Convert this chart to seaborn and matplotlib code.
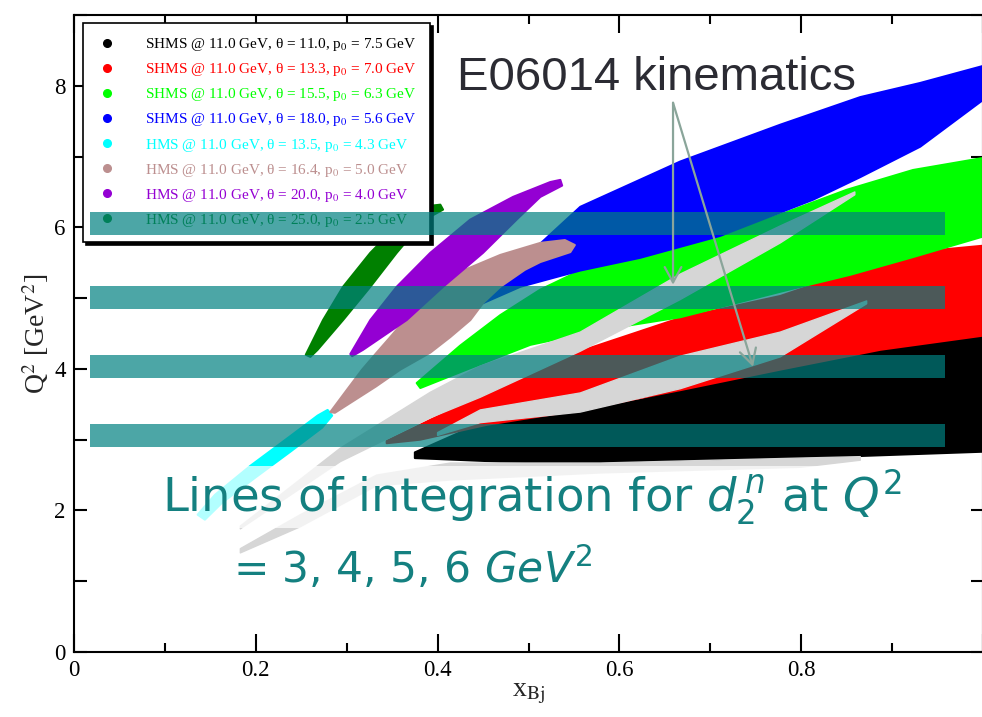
import matplotlib
matplotlib.use("Agg")
import matplotlib.pyplot as plt
import matplotlib.ticker as mticker
from matplotlib.lines import Line2D
import seaborn as sns

# ---------------- data ----------------
legend_labels = [
    "SHMS @ 11.0 GeV, \u03b8 = 11.0, p$_0$ = 7.5 GeV",
    "SHMS @ 11.0 GeV, \u03b8 = 13.3, p$_0$ = 7.0 GeV",
    "SHMS @ 11.0 GeV, \u03b8 = 15.5, p$_0$ = 6.3 GeV",
    "SHMS @ 11.0 GeV, \u03b8 = 18.0, p$_0$ = 5.6 GeV",
    "HMS @ 11.0 GeV, \u03b8 = 13.5, p$_0$ = 4.3 GeV",
    "HMS @ 11.0 GeV, \u03b8 = 16.4, p$_0$ = 5.0 GeV",
    "HMS @ 11.0 GeV, \u03b8 = 20.0, p$_0$ = 4.0 GeV",
    "HMS @ 11.0 GeV, \u03b8 = 25.0, p$_0$ = 2.5 GeV",
]
band_colors = ["#000000", "#ff0000", "#00ff00", "#0000ff",
               "#00ffff", "#bc8f8f", "#9400d3", "#008000"]

# acceptance outlines (x_Bj, Q^2)
shms_11_0 = [(0.375, 2.82), (0.454, 3.27), (0.535, 3.42), (0.623, 3.56), (0.689, 3.77),
             (0.777, 3.99), (0.887, 4.27), (1.0, 4.47), (1.0, 2.83), (0.799, 2.74),
             (0.579, 2.67), (0.469, 2.69), (0.375, 2.74)]
shms_13_3 = [(0.344, 2.98), (0.392, 3.28), (0.447, 3.62), (0.502, 3.94), (0.557, 4.25),
             (0.667, 4.72), (0.777, 5.03), (0.887, 5.51), (0.942, 5.67), (1.0, 5.74),
             (1.0, 4.47), (0.887, 4.27), (0.777, 3.99), (0.667, 3.70), (0.557, 3.42),
             (0.454, 3.21), (0.381, 3.00), (0.344, 2.95)]
shms_15_5 = [(0.377, 3.80), (0.425, 4.33), (0.469, 4.76), (0.513, 5.12), (0.557, 5.39),
             (0.623, 5.57), (0.711, 5.88), (0.777, 6.18), (0.850, 6.53), (0.923, 6.81),
             (1.0, 6.98), (1.0, 5.87), (0.923, 5.58), (0.854, 5.33), (0.777, 5.09),
             (0.667, 4.73), (0.579, 4.55), (0.502, 4.34), (0.436, 4.01), (0.381, 3.73)]
shms_18_0 = [(0.436, 4.89), (0.491, 5.51), (0.557, 6.29), (0.667, 6.93), (0.777, 7.45),
             (0.865, 7.84), (0.931, 8.04), (1.0, 8.28), (1.0, 7.80), (0.931, 7.14),
             (0.865, 6.71), (0.813, 6.39), (0.711, 5.88), (0.623, 5.57), (0.557, 5.39),
             (0.491, 5.16), (0.436, 4.85)]
hms_13_5 = [(0.136, 1.94), (0.155, 2.22), (0.194, 2.63), (0.238, 3.05), (0.268, 3.34),
            (0.279, 3.42), (0.284, 3.34), (0.273, 3.17), (0.238, 2.83), (0.199, 2.46),
            (0.163, 2.11), (0.144, 1.87)]
hms_16_4 = [(0.282, 3.39), (0.300, 3.70), (0.317, 3.99), (0.333, 4.23), (0.348, 4.45),
            (0.364, 4.69), (0.384, 4.93), (0.405, 5.16), (0.430, 5.40), (0.469, 5.61),
            (0.513, 5.78), (0.540, 5.82), (0.551, 5.75), (0.546, 5.65), (0.513, 5.51),
            (0.496, 5.40), (0.469, 5.16), (0.450, 4.93), (0.436, 4.69), (0.414, 4.45),
            (0.392, 4.23), (0.359, 3.99), (0.332, 3.75), (0.304, 3.52), (0.287, 3.38)]
hms_20_0 = [(0.304, 4.21), (0.326, 4.69), (0.355, 5.16), (0.392, 5.64), (0.436, 6.11),
            (0.483, 6.43), (0.524, 6.64), (0.535, 6.67), (0.537, 6.59), (0.513, 6.43),
            (0.487, 6.11), (0.450, 5.64), (0.406, 5.16), (0.366, 4.69), (0.318, 4.27),
            (0.306, 4.18)]
hms_25_0 = [(0.255, 4.20), (0.274, 4.69), (0.296, 5.16), (0.326, 5.64), (0.362, 6.11),
            (0.389, 6.30), (0.403, 6.32), (0.406, 6.25), (0.386, 6.11), (0.355, 5.64),
            (0.326, 5.16), (0.296, 4.69), (0.268, 4.27), (0.260, 4.17)]
bands = [shms_11_0, shms_13_3, shms_15_5, shms_18_0, hms_13_5, hms_16_4, hms_20_0, hms_25_0]

# E06014 kinematics (light grey wedges)
e06014_a = [(0.859, 6.50), (0.777, 6.02), (0.667, 5.34), (0.557, 4.52), (0.447, 4.04),
            (0.392, 3.67), (0.293, 2.88), (0.183, 1.78), (0.183, 1.74), (0.293, 2.69),
            (0.392, 3.31), (0.447, 3.60), (0.557, 4.25), (0.667, 4.98), (0.777, 5.78),
            (0.859, 6.46)]
e06014_b = [(0.872, 4.96), (0.777, 4.52), (0.667, 4.18), (0.557, 3.66), (0.447, 3.42),
            (0.400, 3.10), (0.400, 3.06), (0.447, 3.24), (0.557, 3.39), (0.667, 3.72),
            (0.777, 4.17), (0.872, 4.92)]
e06014_c = [(0.183, 1.46), (0.249, 1.94), (0.333, 2.50), (0.414, 2.67), (0.579, 2.67),
            (0.799, 2.74), (0.865, 2.76), (0.865, 2.71), (0.799, 2.61), (0.579, 2.53),
            (0.414, 2.43), (0.333, 2.35), (0.249, 1.77), (0.183, 1.40)]
e06014_wedges = [e06014_a, e06014_b, e06014_c]

# lines of integration
integration_q2 = [3.06, 4.04, 5.01, 6.05]
integration_x_start = 0.018
integration_x_end = 0.958
integration_thickness = 0.325

# annotation arrows (x_Bj, Q^2)
arrow_start = (0.659, 7.76)
arrow_ends = [(0.659, 5.19), (0.747, 4.03)]

x_major = [0, 0.2, 0.4, 0.6, 0.8, 1.0]
x_major_labels = ["0", "0.2", "0.4", "0.6", "0.8", ""]
y_major = [0, 2, 4, 6, 8]

# ---------------- figure ----------------
sns.set_theme(style="ticks")
plt.rcParams['font.family'] = ['Liberation Serif', 'DejaVu Serif']
plt.rcParams['mathtext.fontset'] = 'stix'

W, H = 982, 717
fig = plt.figure(figsize=(W / 100, H / 100), dpi=100)
rect = [74 / W, 65 / H, 909 / W, 637 / H]
ax = fig.add_axes(rect)

for outline, col in zip(bands[:4], band_colors[:4]):
    xs, ys = zip(*outline)
    ax.fill(xs, ys, color=col, lw=1.5, joinstyle='round', zorder=2)
for outline in e06014_wedges:
    xs, ys = zip(*outline)
    ax.fill(xs, ys, color="#d6d6d6", lw=1.0, joinstyle='round', zorder=3)
for outline, col in zip(bands[4:], band_colors[4:]):
    xs, ys = zip(*outline)
    ax.fill(xs, ys, color=col, lw=1.5, joinstyle='round', zorder=4)

ax.set_xlim(0, 1.0)
ax.set_ylim(0, 9)
ax.set_xticks(x_major)
ax.set_xticklabels(x_major_labels)
ax.set_yticks(y_major)
ax.xaxis.set_minor_locator(mticker.MultipleLocator(0.1))
ax.yaxis.set_minor_locator(mticker.MultipleLocator(1))
ax.tick_params(axis='both', which='both', direction='in', top=True, right=True,
               width=1.5, color='black', labelsize=16.5, labelcolor='black')
ax.tick_params(axis='x', which='major', length=13, pad=6)
ax.tick_params(axis='x', which='minor', length=6.5)
ax.tick_params(axis='y', which='both', length=9, pad=6)
for sp in ax.spines.values():
    sp.set_linewidth(1.5)
    sp.set_color('black')

ax.set_xlabel(r"x$_{\rm Bj}$", fontsize=20, labelpad=0)
ax.set_ylabel(r"Q$^2$ [GeV$^2$]", fontsize=20, labelpad=2)

handles = [Line2D([], [], marker='o', ls='', color=c, markersize=5.5) for c in band_colors]
leg = ax.legend(handles, legend_labels, loc='upper left',
                bbox_to_anchor=(83 / W, 1 - 23 / H), bbox_transform=fig.transFigure,
                frameon=True, fancybox=False, edgecolor='black', framealpha=1,
                fontsize=11, borderpad=0.86, handlelength=1.45, handletextpad=1.75,
                labelspacing=0.53, borderaxespad=0,
                shadow={'color': 'black', 'alpha': 1})
leg.get_frame().set_linewidth(1.2)
for t, c in zip(leg.get_texts(), band_colors):
    t.set_color(c)

# overlay axes: integration lines and arrows lie above the legend
ov = fig.add_axes(rect, sharex=ax, sharey=ax)
ov.set_zorder(ax.get_zorder() + 1)
ov.patch.set_visible(False)
ov.axis('off')

ov.barh(integration_q2, integration_x_end - integration_x_start, left=integration_x_start,
        height=integration_thickness, color=(0, 0.5, 0.5), alpha=0.7, linewidth=0)

for end in arrow_ends:
    ov.annotate("", xy=end, xytext=arrow_start, xycoords='data', textcoords='data',
                arrowprops=dict(arrowstyle='->,head_length=0.55,head_width=0.3',
                                color="#8aa59a", lw=1.6, mutation_scale=20,
                                shrinkA=0, shrinkB=0))

# annotations
fig.text(457 / W, 1 - 90 / H, "E06014 kinematics", fontsize=34,
         family=['Liberation Sans', 'DejaVu Sans'], color="#2b2b33",
         ha='left', va='baseline', zorder=10)

teal = "#148080"
fig.text(162 / W, 1 - 512 / H, r"Lines of integration for $d_2^{\,n}$ at $Q^2$",
         fontsize=33.5, family=['DejaVu Sans'], math_fontfamily='dejavusans',
         color=teal, ha='left', va='baseline', zorder=10,
         bbox=dict(facecolor='white', alpha=0.7, edgecolor='none', pad=1))
fig.text(233 / W, 1 - 583 / H, r"= 3, 4, 5, 6 $GeV^2$",
         fontsize=30.5, family=['DejaVu Sans'], math_fontfamily='dejavusans',
         color=teal, ha='left', va='baseline', zorder=10)

fig.savefig("out.png", dpi=100)
